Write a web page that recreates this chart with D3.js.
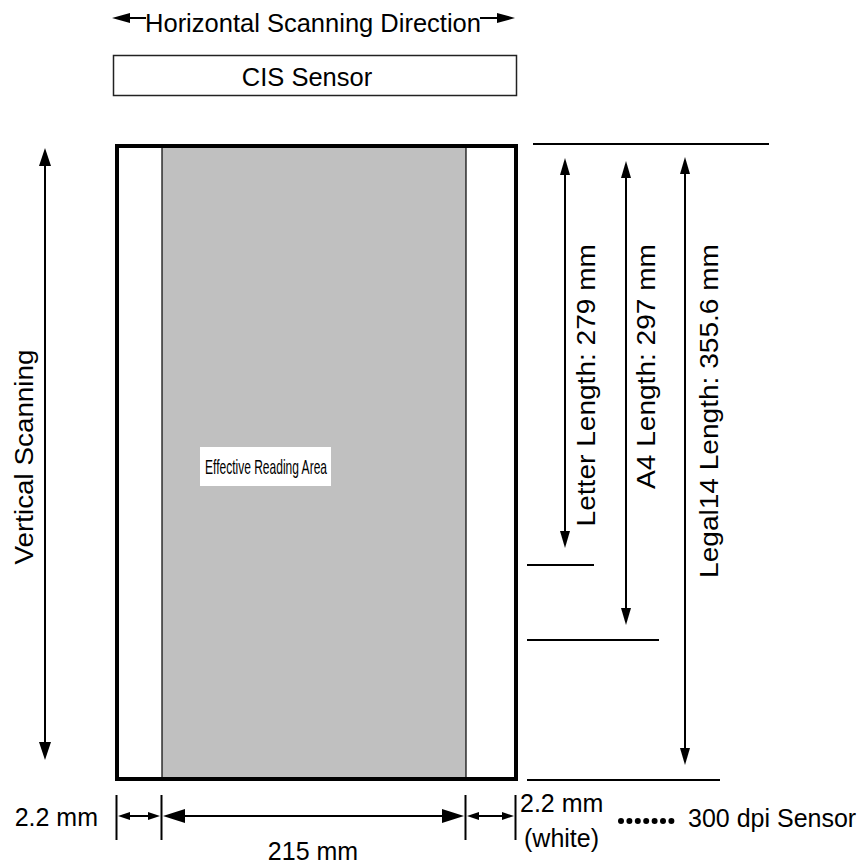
<!DOCTYPE html>
<html>
<head>
<meta charset="utf-8">
<script src="https://cdn.jsdelivr.net/npm/d3@7"></script>
<style>
  html, body { margin: 0; padding: 0; background: #fff; }
  svg { display: block; }
  text { font-family: "Liberation Sans", Arial, Helvetica, sans-serif; fill: #000; }
</style>
</head>
<body>
<div id="chart"></div>
<script>
// ---- data ----
const paperSizes = ["Letter", "A4", "Legal14"];
const paperLengthsMm = [279, 297, 355.6];
const paperLabels = ["Letter Length: 279 mm", "A4 Length: 297 mm", "Legal14 Length: 355.6 mm"];
const widthParts = ["leftMargin", "effective", "rightMargin"];
const widthPartsMm = [2.2, 215, 2.2];
const widthLabels = ["2.2 mm", "215 mm", "2.2 mm"];
const titleText = "Horizontal Scanning Direction";
const sensorText = "CIS Sensor";
const verticalText = "Vertical Scanning";
const areaText = "Effective Reading Area";
const whiteNote = "(white)";
const sensorNote = "300 dpi Sensor";
const dotCount = 7;

// ---- layout scales (schematic diagram) ----
const W = 864, H = 868;
const svg = d3.select("#chart").append("svg").attr("width", W).attr("height", H);

const xEdge = d3.scaleOrdinal().domain(["paperL", "effL", "effR", "paperR"]).range([117, 162, 466, 516]);
const yTop = 146, yBottom = 779, yTopLine = 144;
const yEnd = d3.scaleOrdinal().domain(paperSizes).range([565, 640, 780]);
const xArrow = d3.scaleOrdinal().domain(paperSizes).range([565, 626, 685]);
const xLabel = d3.scaleOrdinal().domain(paperSizes).range([595, 655, 718]);
const xLineEnd = d3.scaleOrdinal().domain(paperSizes).range([594, 659, 720]);
const yArrowTop = d3.scaleOrdinal().domain(paperSizes).range([158, 161, 157]);
const yArrowBot = d3.scaleOrdinal().domain(paperSizes).range([548, 625, 765]);

function head(x, y, dir, len, hw) {
  let p;
  if (dir === "l") p = [[x, y], [x + len, y - hw], [x + len, y + hw]];
  if (dir === "r") p = [[x, y], [x - len, y - hw], [x - len, y + hw]];
  if (dir === "u") p = [[x, y], [x - hw, y + len], [x + hw, y + len]];
  if (dir === "d") p = [[x, y], [x - hw, y - len], [x + hw, y - len]];
  svg.append("path").attr("d", "M" + p.map(d => d.join(",")).join("L") + "Z").attr("fill", "#000");
}
function line(x1, y1, x2, y2, w) {
  svg.append("line").attr("x1", x1).attr("y1", y1).attr("x2", x2).attr("y2", y2)
    .attr("stroke", "#000").attr("stroke-width", w || 2);
}

// ---- title with arrows ----
const title = svg.append("text").attr("x", 313).attr("y", 32).attr("text-anchor", "middle")
  .attr("font-size", 25.5).text(titleText);
const tb = title.node().getBBox();
line(120, 18, tb.x + 1, 18, 2);
line(tb.x + tb.width - 1, 18, 505, 18, 2);
head(112, 18, "l", 18, 5);
head(515, 18, "r", 18, 5);

// ---- CIS sensor box ----
svg.append("rect").attr("x", 113.5).attr("y", 55.5).attr("width", 403).attr("height", 40)
  .attr("fill", "#fff").attr("stroke", "#222").attr("stroke-width", 1.5);
svg.append("text").attr("x", 307).attr("y", 86).attr("text-anchor", "middle")
  .attr("font-size", 25.5).text(sensorText);

// ---- paper ----
svg.append("rect").attr("x", xEdge("effL")).attr("y", yTop).attr("width", xEdge("effR") - xEdge("effL"))
  .attr("height", yBottom - yTop).attr("fill", "#c0c0c0");
line(xEdge("effL"), yTop, xEdge("effL"), yBottom, 1.2);
line(xEdge("effR"), yTop, xEdge("effR"), yBottom, 1.2);
svg.append("rect").attr("x", xEdge("paperL")).attr("y", yTop).attr("width", xEdge("paperR") - xEdge("paperL"))
  .attr("height", yBottom - yTop).attr("fill", "none").attr("stroke", "#000").attr("stroke-width", 4);

// effective reading area label
svg.append("rect").attr("x", 200).attr("y", 447).attr("width", 131).attr("height", 39).attr("fill", "#fff");
svg.append("text").attr("x", 205).attr("y", 474).attr("font-size", 21)
  .attr("textLength", 122).attr("lengthAdjust", "spacingAndGlyphs").text(areaText);

// ---- vertical scanning ----
line(45, 160, 45, 748, 2);
head(45, 148, "u", 18, 6);
head(45, 760, "d", 18, 6);
svg.append("text").attr("transform", "translate(33,457) rotate(-90) scale(1.07,1)")
  .attr("text-anchor", "middle").attr("font-size", 26).text(verticalText);

// ---- paper lengths ----
line(533, yTopLine, 769, yTopLine, 2);
paperSizes.forEach((p, i) => {
  line(527, yEnd(p), xLineEnd(p), yEnd(p), 2);
  line(xArrow(p), yArrowTop(p) + 10, xArrow(p), yArrowBot(p) - 10, 2);
  head(xArrow(p), yArrowTop(p), "u", 17, 5);
  head(xArrow(p), yArrowBot(p), "d", 17, 5);
  svg.append("text").attr("transform", `translate(${xLabel(p)},244) rotate(-90) scale(1.08,1)`)
    .attr("text-anchor", "end").attr("font-size", 26).text(paperLabels[i]);
});

// ---- width dimensions ----
["paperL", "effL", "effR", "paperR"].forEach(k => line(xEdge(k) - 0.5, 795, xEdge(k) - 0.5, 840, 2));
const yDim = 816;
const dimPairs = [["paperL", "effL", 12, 4], ["effL", "effR", 22, 7], ["effR", "paperR", 12, 4]];
dimPairs.forEach(([a, b, len, hw]) => {
  const x1 = xEdge(a) + 1, x2 = xEdge(b) - 2;
  line(x1 + len - 2, yDim, x2 - len + 2, yDim, 2);
  head(x1, yDim, "l", len, hw);
  head(x2, yDim, "r", len, hw);
});
svg.append("text").attr("x", 98).attr("y", 826).attr("text-anchor", "end").attr("font-size", 25).text(widthLabels[0]);
svg.append("text").attr("x", 313).attr("y", 860).attr("text-anchor", "middle").attr("font-size", 25).text(widthLabels[1]);
svg.append("text").attr("x", 520).attr("y", 812).attr("font-size", 25).text(widthLabels[2]);
svg.append("text").attr("x", 524).attr("y", 847).attr("font-size", 25).text(whiteNote);

// dots + sensor note
svg.selectAll("circle.dot").data(d3.range(dotCount)).join("circle").attr("class", "dot")
  .attr("cx", d => 621 + d * 8.4).attr("cy", 821).attr("r", 3).attr("fill", "#000");
svg.append("text").attr("x", 688).attr("y", 827).attr("font-size", 25).text(sensorNote);
</script>
</body>
</html>
